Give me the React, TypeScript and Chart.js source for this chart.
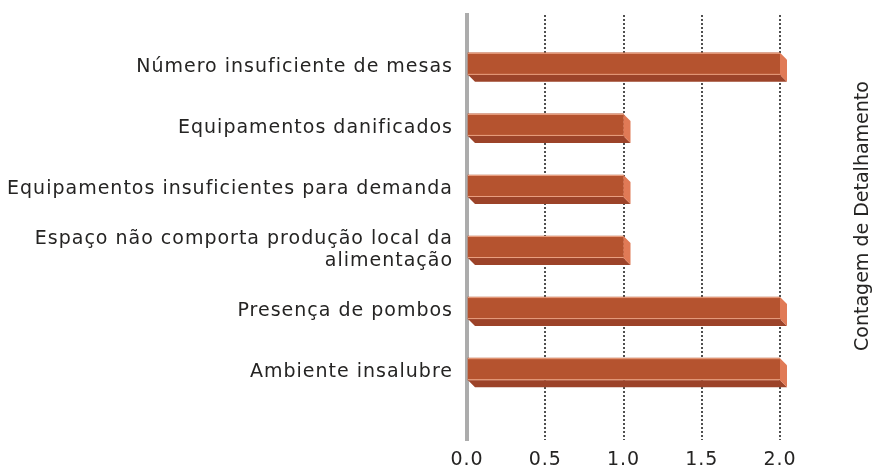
import React, { useEffect, useRef } from "react";
import { Chart, registerables } from "chart.js";

Chart.register(...registerables);

const categories: string[][] = [
  ["Número insuficiente de mesas"],
  ["Equipamentos danificados"],
  ["Equipamentos insuficientes para demanda"],
  ["Espaço não comporta produção local da", "alimentação"],
  ["Presença de pombos"],
  ["Ambiente insalubre"],
];
const counts: number[] = [2, 1, 1, 1, 2, 2];
const xTickValues: number[] = [0, 0.5, 1, 1.5, 2];
const axisTitle = "Contagem de Detalhamento";

const FONT = "'DejaVu Sans', sans-serif";
const FSIZE = 19;
const TEXT = "#252423";
const SPACING = "1px";

const spacingPlugin = {
  id: "spacing",
  beforeInit(chart: any) {
    chart.ctx.letterSpacing = SPACING;
  },
  beforeLayout(chart: any) {
    chart.ctx.letterSpacing = SPACING;
  },
  beforeDraw(chart: any) {
    chart.ctx.letterSpacing = SPACING;
  },
};

const bar3d = {
  id: "bar3d",
  afterDatasetsDraw(chart: any) {
    const ctx = chart.ctx;
    const meta = chart.getDatasetMeta(0);
    const d = 7;
    ctx.save();
    meta.data.forEach((el: any) => {
      const { x, y, base, height } = el.getProps(["x", "y", "base", "height"], true);
      const top = y - height / 2;
      const bottom = y + height / 2;
      ctx.fillStyle = "#9c4329";
      ctx.beginPath();
      ctx.moveTo(base, bottom);
      ctx.lineTo(x, bottom);
      ctx.lineTo(x + d, bottom + d);
      ctx.lineTo(base + d, bottom + d);
      ctx.closePath();
      ctx.fill();
      ctx.fillStyle = "#e07a56";
      ctx.beginPath();
      ctx.moveTo(x, top);
      ctx.lineTo(x + d, top + d);
      ctx.lineTo(x + d, bottom + d);
      ctx.lineTo(x, bottom);
      ctx.closePath();
      ctx.fill();
      ctx.strokeStyle = "rgba(240,170,140,0.9)";
      ctx.lineWidth = 1;
      ctx.beginPath();
      ctx.moveTo(base, top + 0.5);
      ctx.lineTo(x, top + 0.5);
      ctx.moveTo(base, bottom - 0.5);
      ctx.lineTo(x, bottom - 0.5);
      ctx.stroke();
    });
    ctx.restore();
  },
};

const sideTitle = {
  id: "sideTitle",
  afterDraw(chart: any) {
    const ctx = chart.ctx;
    ctx.save();
    ctx.letterSpacing = "0px";
    ctx.translate(chart.width - 12, 216);
    ctx.rotate(-Math.PI / 2);
    ctx.font = `${FSIZE}px ${FONT}`;
    ctx.fillStyle = TEXT;
    ctx.textAlign = "center";
    ctx.textBaseline = "middle";
    ctx.fillText(axisTitle, 0, 0);
    ctx.restore();
  },
};

export default function App() {
  const ref = useRef<HTMLCanvasElement>(null);
  useEffect(() => {
    if (!ref.current) return;
    const chart = new Chart(ref.current, {
      type: "bar",
      data: {
        datasets: [
          {
            data: counts.map((v, i) => ({ x: v, y: i })),
            backgroundColor: "#b5532f",
            borderWidth: 0,
            barThickness: 22,
          },
        ],
      },
      plugins: [spacingPlugin, bar3d, sideTitle],
      options: {
        indexAxis: "y",
        animation: false,
        responsive: false,
        maintainAspectRatio: false,
        layout: { padding: { top: 15, right: 95, left: 0, bottom: 0 } },
        plugins: { legend: { display: false }, tooltip: { enabled: false } },
        scales: {
          x: {
            type: "linear",
            min: 0,
            max: 2,
            z: 1,
            afterBuildTicks: (s: any) => {
              s.ticks = xTickValues.map((v) => ({ value: v }));
            },
            afterFit: (s: any) => {
              s.height = 28;
            },
            ticks: {
              color: TEXT,
              font: { family: FONT, size: FSIZE },
              padding: 9,
              callback: (v: any) => Number(v).toFixed(1),
            },
            grid: {
              drawTicks: false,
              lineWidth: 2,
              color: (c: any) => (c.tick && c.tick.value === 0 ? "rgba(0,0,0,0)" : "rgba(60,60,60,0.9)"),
            },
            border: { display: false, dash: [2, 2] },
          },
          y: {
            type: "linear",
            reverse: true,
            offset: false,
            min: -0.8,
            max: 6.16,
            afterBuildTicks: (s: any) => {
              s.ticks = categories.map((_, i) => ({ value: i }));
            },
            afterFit: (s: any) => {
              s.width = 467;
              s.paddingTop = 0;
              s.paddingBottom = 0;
            },
            ticks: {
              color: TEXT,
              font: { family: FONT, size: FSIZE },
              padding: 6,
              labelOffset: 3,
              callback: (v: any) => categories[Number(v)] || "",
            },
            grid: { display: false },
            border: { display: true, color: "#acacac", width: 4 },
          },
        },
      } as any,
    });
    return () => chart.destroy();
  }, []);
  return (
    <div style={{ position: "fixed", left: 0, top: 0, width: 875, height: 468, background: "#fff" }}>
      <canvas ref={ref} width={875} height={468} />
    </div>
  );
}
